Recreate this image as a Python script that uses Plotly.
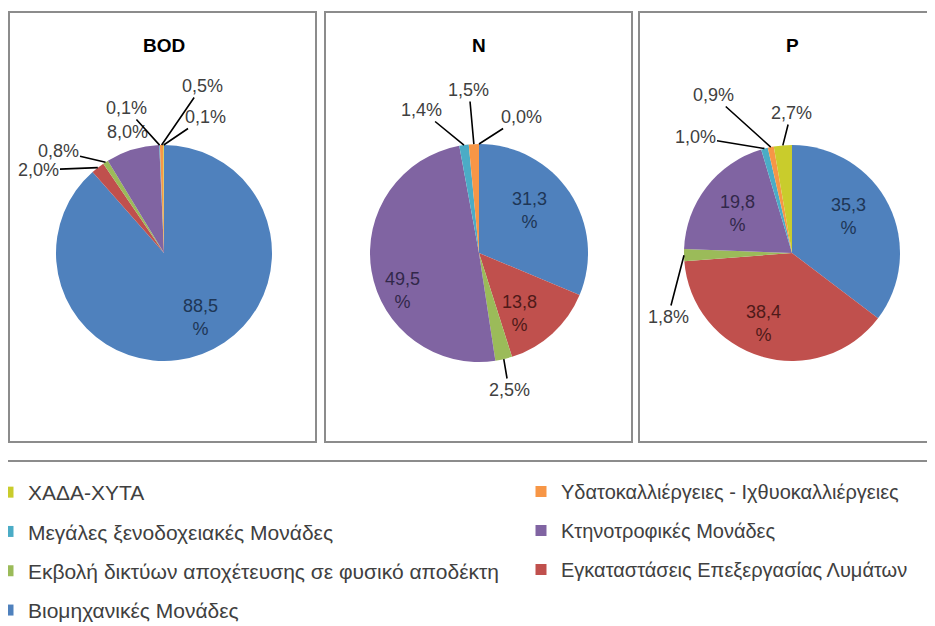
import math
import plotly.graph_objects as go

# categories in slice order (clockwise from 12 o'clock)
categories = [
    'Βιομηχανικές Μονάδες',
    'Εγκαταστάσεις Επεξεργασίας Λυμάτων',
    'Εκβολή δικτύων αποχέτευσης σε φυσικό αποδέκτη',
    'Κτηνοτροφικές Μονάδες',
    'Μεγάλες ξενοδοχειακές Μονάδες',
    'Υδατοκαλλιέργειες - Ιχθυοκαλλιέργειες',
    'ΧΑΔΑ-ΧΥΤΑ',
]
colors = ['#4F81BD', '#C0504D', '#9BBB59', '#8064A2', '#4BACC6', '#F79646', '#C9CC2C']
dark_colors = ['#1E3656', '#4F1A19', '#3E4C22', '#32284A', '#1C4552', '#633C1C', '#4F5011']

titles = ['BOD', 'N', 'P']
bod = [88.5, 2.0, 0.8, 8.0, 0.1, 0.5, 0.1]
nitro = [31.3, 13.8, 2.5, 49.5, 1.4, 1.5, 0.0]
phos = [35.3, 38.4, 1.8, 19.8, 1.0, 0.9, 2.7]
series = [bod, nitro, phos]

# the page body has an 8px margin, so the figure is drawn 8px in from the corner
OFF = 8
W, H = 935 - OFF, 626 - OFF

def fx(px):
    return (px - OFF) / W

def fy(py):
    return 1 - (py - OFF) / H

# pie geometry in page pixels: centre x, centre y, radius
pies = [(164, 253, 108), (479, 253, 109), (792, 253, 108)]
# label placement: slice index -> (text centre x, text centre y, leader line, inside)
placement = [
    {0: (200, 317, False, True),
     5: (202, 86, True, False), 6: (205, 117, True, False), 4: (126, 108, True, False),
     3: (128, 132, False, False), 2: (58, 151, True, False), 1: (38, 170, True, False)},
    {0: (529, 210, False, True), 1: (519, 313, False, True), 3: (402, 290, False, True),
     4: (421, 110, True, False), 5: (469, 90, True, False), 6: (521, 117, True, False),
     2: (509, 390, True, False)},
    {0: (848, 216, False, True), 1: (763, 323, False, True), 3: (737, 213, False, True),
     6: (791, 113, True, False), 5: (713, 95, True, False), 4: (695, 137, True, False),
     2: (668, 317, True, False)},
]
panels = [(9, 316), (325, 632), (639, 945)]

fig = go.Figure()
annotations = []
shapes = []

for k, vals in enumerate(series):
    cx, cy, r = pies[k]
    fig.add_trace(go.Pie(
        labels=categories,
        values=vals,
        sort=False,
        direction='clockwise',
        rotation=0,
        marker=dict(colors=colors, line=dict(width=0)),
        textinfo='none',
        domain=dict(x=[fx(cx - r), fx(cx + r)], y=[fy(cy + r), fy(cy - r)]),
        showlegend=False,
        hoverinfo='label+percent',
    ))
    annotations.append(dict(
        x=fx(cx), y=fy(45), xref='paper', yref='paper', text='<b>%s</b>' % titles[k],
        xanchor='center', yanchor='middle', showarrow=False,
        font=dict(family='Liberation Sans', size=19, color='#000000'),
    ))
    total = sum(vals)
    cum = 0
    for i, v in enumerate(vals):
        mid = (cum + v / 2) / total * 2 * math.pi
        cum += v
        if i not in placement[k]:
            continue
        tx, ty, line, ins = placement[k][i]
        if ins:
            label = ('%.1f<br>%%' % v).replace('.', ',')
            font = dict(family='Liberation Sans', size=18, color=dark_colors[i])
        else:
            label = ('%.1f%%' % v).replace('.', ',')
            font = dict(family='Liberation Sans', size=18, color='#404040')
        if line:
            axp = cx + r * math.sin(mid)
            ayp = cy - r * math.cos(mid)
            annotations.append(dict(
                x=fx(axp), y=fy(ayp), xref='paper', yref='paper', text=label,
                showarrow=True, arrowhead=0, arrowwidth=1.6, arrowcolor='#000000',
                ax=tx - axp, ay=ty - ayp, font=font, standoff=0,
            ))
        else:
            annotations.append(dict(
                x=fx(tx), y=fy(ty), xref='paper', yref='paper', text=label,
                xanchor='center', yanchor='middle', showarrow=False, font=font,
            ))
    x0, x1 = panels[k]
    shapes.append(dict(type='rect', xref='paper', yref='paper',
                       x0=fx(x0), x1=fx(x1), y0=fy(442), y1=fy(12),
                       line=dict(color='#8C8C8C', width=2)))

shapes.append(dict(type='line', xref='paper', yref='paper', x0=fx(0), x1=fx(940),
                   y0=fy(461), y1=fy(461), line=dict(color='#8C8C8C', width=2)))

# legend entries: two columns, reversed category order
for n, i in enumerate(reversed(range(len(categories)))):
    fig.add_trace(go.Scatter(
        x=[None], y=[None], mode='markers', name=categories[i],
        marker=dict(symbol='square', size=11, color=colors[i]),
        legend='legend' if n % 2 == 0 else 'legend2',
        legendgroup=categories[i], showlegend=True, hoverinfo='skip',
    ))

fig.update_layout(
    width=W, height=H,
    margin=dict(l=0, r=0, t=0, b=0, autoexpand=False),
    paper_bgcolor='white', plot_bgcolor='white',
    xaxis=dict(visible=False), yaxis=dict(visible=False),
    annotations=annotations,
    shapes=shapes,
    legend=dict(x=fx(-12), y=fy(472), xanchor='left', yanchor='top',
                traceorder='grouped', tracegroupgap=9,
                font=dict(family='Liberation Sans', size=21, color='#404040'),
                bgcolor='rgba(0,0,0,0)'),
    legend2=dict(x=fx(521), y=fy(472), xanchor='left', yanchor='top',
                 traceorder='grouped', tracegroupgap=10,
                 font=dict(family='Liberation Sans', size=20, color='#404040'),
                 bgcolor='rgba(0,0,0,0)'),
)

fig.write_html('out.html')
